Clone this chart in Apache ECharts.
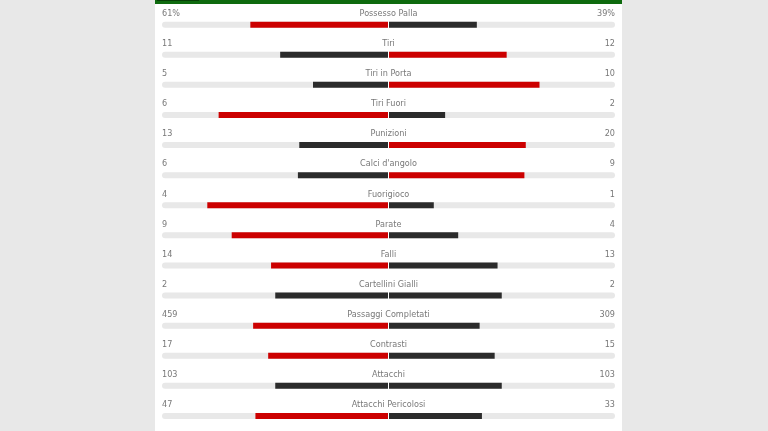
<!DOCTYPE html>
<html>
<head>
<meta charset="utf-8">
<script src="https://cdn.jsdelivr.net/npm/echarts@6/dist/echarts.min.js"></script>
<style>
  html, body { margin: 0; padding: 0; background: #e8e8e8; }
  #panel { position: absolute; left: 155px; top: 0; width: 467px; height: 431px; background: #fff; border-top: 4px solid #0e6a0e; box-sizing: border-box; }
  #tab { position: absolute; left: 157px; top: 0; width: 42px; height: 1px; background: #063f06; }
  #chart { position: absolute; left: 0; top: 0; width: 768px; height: 431px; }
</style>
</head>
<body>
<div id="panel"></div>
<div id="tab"></div>
<div id="chart"></div>
<script>
// stats (home left, away right)
const statNames = [
  "Possesso Palla", "Tiri", "Tiri in Porta", "Tiri Fuori", "Punizioni",
  "Calci d'angolo", "Fuorigioco", "Parate", "Falli", "Cartellini Gialli",
  "Passaggi Completati", "Contrasti", "Attacchi", "Attacchi Pericolosi"
];
const homeValues = [61, 11, 5, 6, 13, 6, 4, 9, 14, 2, 459, 17, 103, 47];
const awayValues = [39, 12, 10, 2, 20, 9, 1, 4, 13, 2, 309, 15, 103, 33];
const homeLabels = ["61%", "11", "5", "6", "13", "6", "4", "9", "14", "2", "459", "17", "103", "47"];
const awayLabels = ["39%", "12", "10", "2", "20", "9", "1", "4", "13", "2", "309", "15", "103", "33"];

const RED = "#cc0000";
const DARK = "#2b2b2b";
const TEXT = "#555";
const FONT = "'Liberation Sans Narrow', 'DejaVu Sans Condensed', sans-serif";

const homeBars = homeValues.map((v, i) => {
  const tot = v + awayValues[i];
  return {
    value: -(tot ? v / tot : 0),
    itemStyle: { color: v > awayValues[i] ? RED : DARK },
  };
});
const awayBars = awayValues.map((v, i) => {
  const tot = v + homeValues[i];
  return {
    value: tot ? v / tot : 0,
    itemStyle: { color: v > homeValues[i] ? RED : DARK },
  };
});

const textSeries = (x, labels, align) => ({
  type: "scatter",
  symbolSize: 0,
  silent: true,
  z: 5,
  data: labels.map((t, i) => [x, statNames[i], t]),
  label: {
    show: true,
    position: "inside",
    offset: [0, -11],
    align: align,
    verticalAlign: "middle",
    color: TEXT,
    fontFamily: FONT,
    fontSize: 9,
    formatter: (p) => p.data[2],
  },
});

const chart = echarts.init(document.getElementById("chart"));
chart.setOption({
  animation: false,
  grid: { left: 162, right: 153, top: 9.6, height: 423 },
  xAxis: { type: "value", min: -1, max: 1, show: false },
  yAxis: {
    type: "category",
    inverse: true,
    data: statNames,
    show: false,
  },
  series: [
    {
      name: "Casa",
      type: "bar",
      barWidth: 6,
      barGap: "-100%",
      showBackground: true,
      backgroundStyle: { color: "#e8e8e8", borderRadius: 3 },
      data: homeBars,
    },
    {
      name: "Ospiti",
      type: "bar",
      barWidth: 6,
      barGap: "-100%",
      data: awayBars,
      markLine: {
        silent: true,
        symbol: "none",
        label: { show: false },
        lineStyle: { color: "#fff", width: 1, type: "solid" },
        data: [{ xAxis: 0 }],
      },
    },
    textSeries(0, statNames, "center"),
    textSeries(-1, homeLabels, "left"),
    textSeries(1, awayLabels, "right"),
  ],
});
</script>
</body>
</html>
